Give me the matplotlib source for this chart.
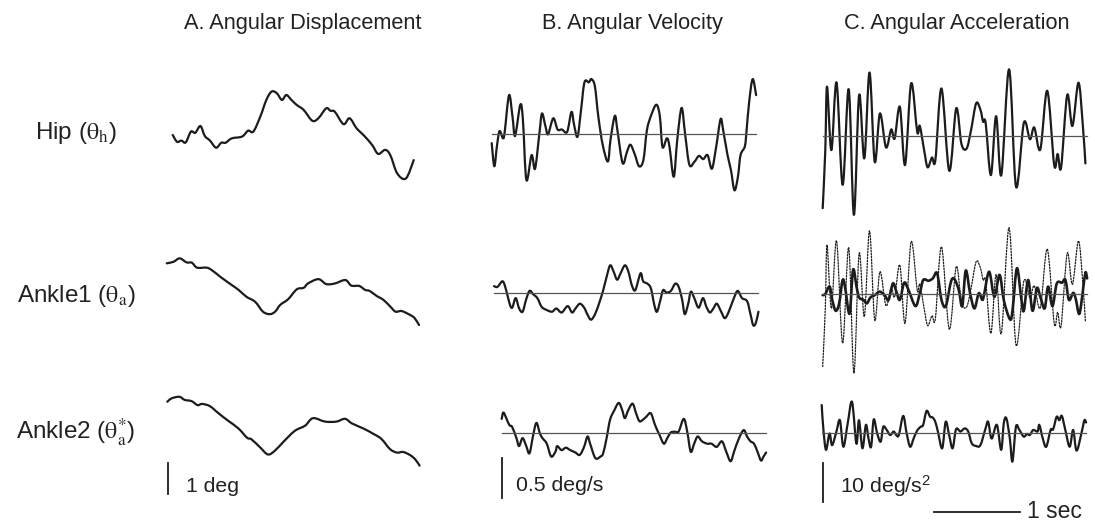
import numpy as np
import matplotlib
matplotlib.use("Agg")
from matplotlib import pyplot as plt
from matplotlib.path import Path
from matplotlib.patches import PathPatch

plt.rcParams["font.family"] = ["Liberation Sans", "DejaVu Sans"]
plt.rcParams["mathtext.fontset"] = "stix"

titles = ["A. Angular Displacement", "B. Angular Velocity",
          "C. Angular Acceleration"]
row_labels = [r"Hip ($\mathrm{\theta_h}$)", r"Ankle1 ($\mathrm{\theta_a}$)",
              r"Ankle2 ($\mathrm{\theta_a^{*}}$)"]
scale_labels = ["1 deg", "0.5 deg/s", r"10 deg/s$^\mathregular{2}$"]
scale_sizes = [1.0, 0.5, 10.0]   # deg, deg/s, deg/s^2
time_bar = 1.0                   # sec
duration = 3.05                  # length of the zero lines, sec

# (time s, value)
hip_disp = [(0.00, 0.00), (0.05, -0.22), (0.10, -0.18), (0.15, -0.24), (0.21, 0.11),
            (0.26, 0.07), (0.32, 0.29), (0.37, -0.03), (0.43, -0.18), (0.50, -0.41),
            (0.56, -0.25), (0.61, -0.25), (0.68, -0.11), (0.80, -0.05), (0.87, 0.14),
            (0.93, 0.11), (1.01, 0.59), (1.08, 1.13), (1.14, 1.40), (1.20, 1.35),
            (1.26, 1.13), (1.31, 1.29), (1.37, 1.13), (1.43, 0.97), (1.51, 0.81),
            (1.61, 0.46), (1.68, 0.54), (1.77, 0.86), (1.82, 0.78), (1.87, 0.75),
            (1.97, 0.35), (2.04, 0.54), (2.12, 0.22), (2.21, -0.03), (2.30, -0.32),
            (2.37, -0.61), (2.45, -0.48), (2.51, -0.65), (2.59, -1.24), (2.69, -1.40),
            (2.78, -0.81)]
ankle1_disp = [(0.00, 0.99), (0.08, 1.04), (0.15, 1.15), (0.23, 1.02), (0.29, 1.01),
               (0.35, 0.85), (0.46, 0.85), (0.52, 0.77), (0.63, 0.53), (0.75, 0.29),
               (0.83, 0.13), (0.92, -0.09), (1.02, -0.25), (1.11, -0.57), (1.19, -0.65),
               (1.25, -0.57), (1.31, -0.35), (1.40, -0.17), (1.50, 0.15), (1.58, 0.20),
               (1.63, 0.34), (1.75, 0.48), (1.84, 0.32), (1.94, 0.34), (2.06, 0.45),
               (2.13, 0.27), (2.22, 0.26), (2.29, 0.13), (2.34, 0.10), (2.42, -0.06),
               (2.50, -0.19), (2.58, -0.41), (2.64, -0.57), (2.71, -0.55), (2.81, -0.68),
               (2.86, -0.78), (2.91, -1.00)]
ankle2_disp = [(0.00, 1.04), (0.05, 1.15), (0.14, 1.20), (0.20, 1.10), (0.28, 1.06),
               (0.35, 0.93), (0.40, 0.97), (0.49, 0.90), (0.59, 0.67), (0.70, 0.43),
               (0.82, 0.18), (0.92, -0.12), (0.97, -0.17), (1.07, -0.43), (1.16, -0.66),
               (1.24, -0.54), (1.34, -0.25), (1.47, 0.10), (1.59, 0.27), (1.68, 0.51),
               (1.82, 0.40), (1.95, 0.40), (2.05, 0.49), (2.13, 0.34), (2.26, 0.18),
               (2.38, 0.00), (2.47, -0.16), (2.57, -0.49), (2.65, -0.60), (2.72, -0.58),
               (2.80, -0.68), (2.86, -0.82), (2.91, -1.02)]

hip_vel = [(0.00, -0.11), (0.03, -0.40), (0.06, -0.15), (0.09, 0.04), (0.13, -0.05),
           (0.15, 0.03), (0.20, 0.49), (0.24, 0.22), (0.27, -0.02), (0.33, 0.37),
           (0.36, 0.18), (0.40, -0.57), (0.46, -0.26), (0.50, -0.43), (0.55, 0.01),
           (0.58, 0.26), (0.62, 0.10), (0.65, 0.00), (0.71, 0.20), (0.76, 0.06),
           (0.81, 0.06), (0.87, 0.03), (0.92, 0.28), (0.95, 0.12), (0.99, -0.03),
           (1.03, 0.30), (1.07, 0.65), (1.12, 0.65), (1.15, 0.69), (1.19, 0.60),
           (1.23, 0.22), (1.28, -0.13), (1.34, -0.34), (1.37, -0.07), (1.42, 0.23),
           (1.45, 0.05), (1.51, -0.36), (1.56, -0.22), (1.60, -0.13), (1.65, -0.25),
           (1.70, -0.40), (1.75, -0.32), (1.79, 0.05), (1.84, 0.24), (1.90, 0.37),
           (1.94, 0.22), (1.97, -0.16), (2.02, -0.05), (2.05, -0.15), (2.10, -0.53),
           (2.14, -0.07), (2.19, 0.33), (2.23, 0.01), (2.28, -0.38), (2.34, -0.34),
           (2.39, -0.27), (2.44, -0.31), (2.49, -0.26), (2.54, -0.43), (2.59, -0.15),
           (2.64, 0.19), (2.67, 0.05), (2.72, -0.26), (2.76, -0.45), (2.80, -0.70),
           (2.84, -0.53), (2.87, -0.26), (2.92, -0.15), (2.94, 0.05), (2.97, 0.41),
           (3.01, 0.69), (3.05, 0.49)]
ankle1_vel = [(0.00, 0.09), (0.04, 0.08), (0.10, 0.15), (0.14, 0.04), (0.18, -0.13),
              (0.21, -0.18), (0.25, -0.06), (0.29, -0.19), (0.33, -0.23), (0.37, -0.08),
              (0.41, 0.03), (0.45, -0.01), (0.50, -0.06), (0.55, -0.17), (0.61, -0.21),
              (0.67, -0.23), (0.72, -0.19), (0.78, -0.24), (0.85, -0.16), (0.90, -0.24),
              (0.94, -0.19), (0.99, -0.13), (1.04, -0.18), (1.08, -0.27), (1.12, -0.33),
              (1.17, -0.25), (1.22, -0.10), (1.26, 0.04), (1.30, 0.21), (1.34, 0.35),
              (1.38, 0.27), (1.42, 0.17), (1.46, 0.25), (1.51, 0.35), (1.55, 0.27),
              (1.59, 0.10), (1.63, 0.04), (1.69, 0.25), (1.72, 0.15), (1.77, 0.12),
              (1.81, 0.06), (1.85, -0.15), (1.88, -0.23), (1.92, -0.08), (1.95, 0.04),
              (1.99, 0.01), (2.04, 0.03), (2.09, 0.12), (2.13, 0.08), (2.17, -0.08),
              (2.20, -0.26), (2.24, -0.13), (2.27, 0.02), (2.31, -0.06), (2.36, -0.18),
              (2.41, -0.06), (2.45, -0.17), (2.49, -0.24), (2.53, -0.19), (2.57, -0.13),
              (2.62, -0.23), (2.66, -0.31), (2.70, -0.25), (2.76, -0.08), (2.81, 0.03),
              (2.86, -0.06), (2.92, -0.10), (2.96, -0.27), (2.99, -0.40), (3.02, -0.37),
              (3.05, -0.23)]
ankle2_vel = [(0.00, 0.18), (0.02, 0.26), (0.06, 0.17), (0.09, 0.10), (0.12, 0.08),
              (0.17, -0.06), (0.20, -0.16), (0.24, -0.06), (0.28, -0.15), (0.32, -0.25),
              (0.36, -0.04), (0.40, 0.13), (0.44, 0.00), (0.47, -0.06), (0.52, -0.13),
              (0.57, -0.29), (0.62, -0.23), (0.64, -0.16), (0.69, -0.21), (0.74, -0.18),
              (0.79, -0.21), (0.85, -0.24), (0.90, -0.27), (0.95, -0.17), (0.99, -0.04),
              (1.02, -0.13), (1.08, -0.31), (1.14, -0.29), (1.17, -0.25), (1.21, -0.06),
              (1.25, 0.17), (1.30, 0.29), (1.35, 0.38), (1.39, 0.29), (1.42, 0.19),
              (1.46, 0.29), (1.51, 0.37), (1.55, 0.25), (1.59, 0.15), (1.64, 0.18),
              (1.67, 0.21), (1.72, 0.25), (1.77, 0.10), (1.82, -0.02), (1.87, -0.13),
              (1.91, -0.06), (1.95, 0.01), (2.00, 0.02), (2.04, 0.02), (2.10, 0.18),
              (2.14, 0.02), (2.18, -0.23), (2.22, -0.13), (2.26, -0.04), (2.31, -0.10),
              (2.37, -0.13), (2.42, -0.13), (2.48, -0.17), (2.54, -0.10), (2.59, -0.23),
              (2.64, -0.35), (2.68, -0.23), (2.73, -0.08), (2.79, 0.04), (2.83, -0.04),
              (2.87, -0.10), (2.91, -0.13), (2.95, -0.23), (2.99, -0.34), (3.02, -0.29),
              (3.05, -0.24)]

hip_acc = [(0.00, -18.6), (0.03, -3.7), (0.05, 12.6), (0.10, -3.7), (0.16, 13.6),
           (0.23, -12.6), (0.30, 11.9), (0.36, -20.3), (0.42, 10.4), (0.48, -5.8),
           (0.54, 16.2), (0.60, -6.7), (0.66, 5.7), (0.73, -3.0), (0.79, 1.6),
           (0.83, -0.7), (0.89, 7.4), (0.95, -7.5), (1.02, 13.4), (1.09, 1.0),
           (1.12, 2.5), (1.17, -3.7), (1.21, -8.1), (1.26, -5.6), (1.30, -6.2),
           (1.37, 12.1), (1.46, -9.0), (1.54, 7.0), (1.60, -2.1), (1.66, -3.3),
           (1.71, 1.3), (1.77, 8.3), (1.82, 6.6), (1.85, 3.6), (1.88, 3.2),
           (1.94, -10.1), (2.00, 5.0), (2.06, -10.1), (2.15, 17.0), (2.23, -13.1),
           (2.32, 3.3), (2.39, -0.9), (2.44, 2.1), (2.51, -3.5), (2.59, 11.5),
           (2.67, -7.5), (2.71, -4.7), (2.75, -8.1), (2.82, 10.4), (2.88, 2.5),
           (2.95, 13.6), (3.00, 2.7), (3.03, -7.1)]
ankle1_acc = [(0.00, -0.3), (0.03, 0.0), (0.08, 1.9), (0.11, -1.5), (0.15, -4.3),
              (0.19, -2.4), (0.23, 3.6), (0.26, 1.5), (0.31, -5.0), (0.35, 6.2),
              (0.39, 1.9), (0.42, -0.9), (0.47, -1.5), (0.51, -2.4), (0.55, -0.9),
              (0.60, -0.3), (0.66, 0.6), (0.72, -0.5), (0.76, -1.5), (0.81, 2.7),
              (0.85, 0.6), (0.89, -1.5), (0.94, 2.9), (0.99, 1.0), (1.07, -3.1),
              (1.12, 0.2), (1.16, 3.6), (1.22, 3.4), (1.27, 4.0), (1.32, 5.3),
              (1.37, -1.5), (1.42, -3.1), (1.48, 3.2), (1.52, 3.8), (1.57, 1.0),
              (1.61, -3.1), (1.65, 6.0), (1.70, 0.2), (1.75, -3.7), (1.80, 0.2),
              (1.84, -1.5), (1.86, -0.3), (1.92, 5.7), (1.98, -0.7), (2.04, 4.9),
              (2.09, -1.7), (2.16, -6.5), (2.19, -4.1), (2.24, 6.6), (2.29, -1.1),
              (2.32, -4.3), (2.37, 3.6), (2.42, -4.3), (2.47, 1.5), (2.51, -0.7),
              (2.56, -3.7), (2.60, 1.9), (2.65, -3.1), (2.70, 2.7), (2.76, 2.9),
              (2.80, 3.6), (2.84, -1.5), (2.89, 0.3), (2.92, -1.4), (2.96, -5.1),
              (3.00, 0.6), (3.03, 5.5), (3.05, 4.0)]
ankle2_acc = [(0.00, 7.1), (0.02, 0.7), (0.05, -4.4), (0.09, -0.2), (0.12, -3.2),
              (0.17, 0.3), (0.21, 3.2), (0.25, -3.6), (0.30, 2.4), (0.35, 7.9),
              (0.40, -2.8), (0.43, 3.2), (0.47, -4.0), (0.51, 2.0), (0.54, -1.5),
              (0.57, -3.6), (0.60, 3.4), (0.64, -0.2), (0.68, -2.3), (0.71, 1.5),
              (0.75, 0.7), (0.79, -0.6), (0.83, 0.3), (0.86, -0.6), (0.89, -0.6),
              (0.94, 4.3), (0.98, -0.2), (1.02, -3.6), (1.06, -1.5), (1.10, 0.5),
              (1.14, 1.5), (1.17, 2.0), (1.21, 5.6), (1.25, 4.1), (1.28, 3.9),
              (1.31, 2.8), (1.34, 0.3), (1.39, -4.0), (1.43, 2.8), (1.47, -0.6),
              (1.51, -4.0), (1.55, 0.9), (1.60, 0.3), (1.65, 1.1), (1.69, 0.3),
              (1.73, -2.7), (1.78, -3.4), (1.83, -3.2), (1.89, 1.1), (1.92, 2.8),
              (1.96, -1.5), (2.02, 2.0), (2.07, -4.4), (2.10, 2.4), (2.13, 3.7),
              (2.17, -1.5), (2.20, -7.4), (2.24, 1.5), (2.28, 0.7), (2.33, -1.0),
              (2.37, -0.3), (2.40, -0.6), (2.44, 0.7), (2.49, 0.3), (2.51, 2.0),
              (2.55, -1.5), (2.59, -3.6), (2.64, 0.7), (2.67, 0.9), (2.71, 4.1),
              (2.74, 3.2), (2.77, 4.3), (2.81, 0.7), (2.86, -3.6), (2.90, 0.7),
              (2.94, -4.6), (3.00, 0.3), (3.03, 3.2), (3.05, 2.6)]

traces = [[hip_disp, hip_vel, hip_acc],
          [ankle1_disp, ankle1_vel, ankle1_acc],
          [ankle2_disp, ankle2_vel, ankle2_acc]]

# ---- layout (pixels on a 1095x529 canvas) ----
W, H = 1095, 529
SEC_PX = 86.7                       # pixels per second
PX_PER_UNIT = [31.0, 80.0, 3.9]     # per deg, per deg/s, per deg/s^2
LEFTS = [[172.7, 491.7, 822.7],
         [166.7, 494.0, 822.7],
         [167.3, 501.7, 821.7]]
BASES = [[135.0, 134.3, 135.7],
         [294.0, 293.3, 294.0],
         [434.0, 433.3, 432.7]]
INK = "#1c1c1c"
GREY = "#555555"
TXT = "#222222"

fig = plt.figure(figsize=(W / 100, H / 100), dpi=100)


def panel(left, base, ppu):
    half = 100
    ax = fig.add_axes([left / W, 1 - (base + half) / H, 300 / W, 2 * half / H])
    ax.set_xlim(0, 300 / SEC_PX)
    ax.set_ylim(-half / ppu, half / ppu)
    ax.axis("off")
    ax.patch.set_alpha(0)
    return ax


def trace(ax, pts, **kw):
    # draw the read-off points as a smooth pen stroke (Catmull-Rom as Bezier)
    p = np.asarray(pts, dtype=float)
    q = np.vstack([p[0], p, p[-1]])
    verts = [p[0]]
    codes = [Path.MOVETO]
    for i in range(1, len(q) - 2):
        c1 = q[i] + (q[i + 1] - q[i - 1]) / 6
        c2 = q[i + 1] - (q[i + 2] - q[i]) / 6
        verts += [c1, c2, q[i + 1]]
        codes += [Path.CURVE4] * 3
    ax.add_patch(PathPatch(Path(verts, codes), fill=False, clip_on=False,
                           capstyle="round", joinstyle="round", **kw))


axes = []
for r in range(3):
    row = []
    for c in range(3):
        ax = panel(LEFTS[r][c], BASES[r][c], PX_PER_UNIT[c])
        if c > 0:
            ax.plot([0, duration], [0, 0], color=GREY, lw=0.9, clip_on=False)
        if r == 1 and c == 2:
            trace(ax, hip_acc, edgecolor=INK, lw=0.9, ls=(0, (1.2, 1.2)))
        trace(ax, traces[r][c], edgecolor=INK, lw=1.6 if (r, c) != (1, 2) else 1.9)
        row.append(ax)
    axes.append(row)

for c, title in enumerate(titles):
    fig.text([302.5, 632, 956.5][c] / W, 1 - 24 / H, title, ha="center",
             va="center", fontsize=15.7, color=TXT)

for r, lab in enumerate(row_labels):
    fig.text(76 / W, 1 - [133, 296, 433][r] / H, lab, ha="center", va="center",
             fontsize=17.5, color=TXT)

# scale bars in the bottom row
bar_offsets = [(0.01, -0.93), (0.0, -0.31), (0.018, -7.85)]
label_offsets = [(0.22, -1.70), (0.17, -0.655), (0.21, -13.7)]
for c in range(3):
    ax = axes[2][c]
    x0, y0 = bar_offsets[c]
    ax.plot([x0, x0], [y0, y0 - scale_sizes[c]], color=INK, lw=1.3, clip_on=False)
    lx, ly = label_offsets[c]
    ax.text(lx, ly, scale_labels[c], ha="left", va="center", fontsize=15.3,
            color=TXT)

ax = axes[2][2]
ax.plot([1.29, 1.29 + time_bar], [-20.3, -20.3], color=INK, lw=1.3, clip_on=False)
ax.text(2.37, -20.3, "1 sec", ha="left", va="center", fontsize=16.5, color=TXT)

plt.savefig("out.png", dpi=100)
